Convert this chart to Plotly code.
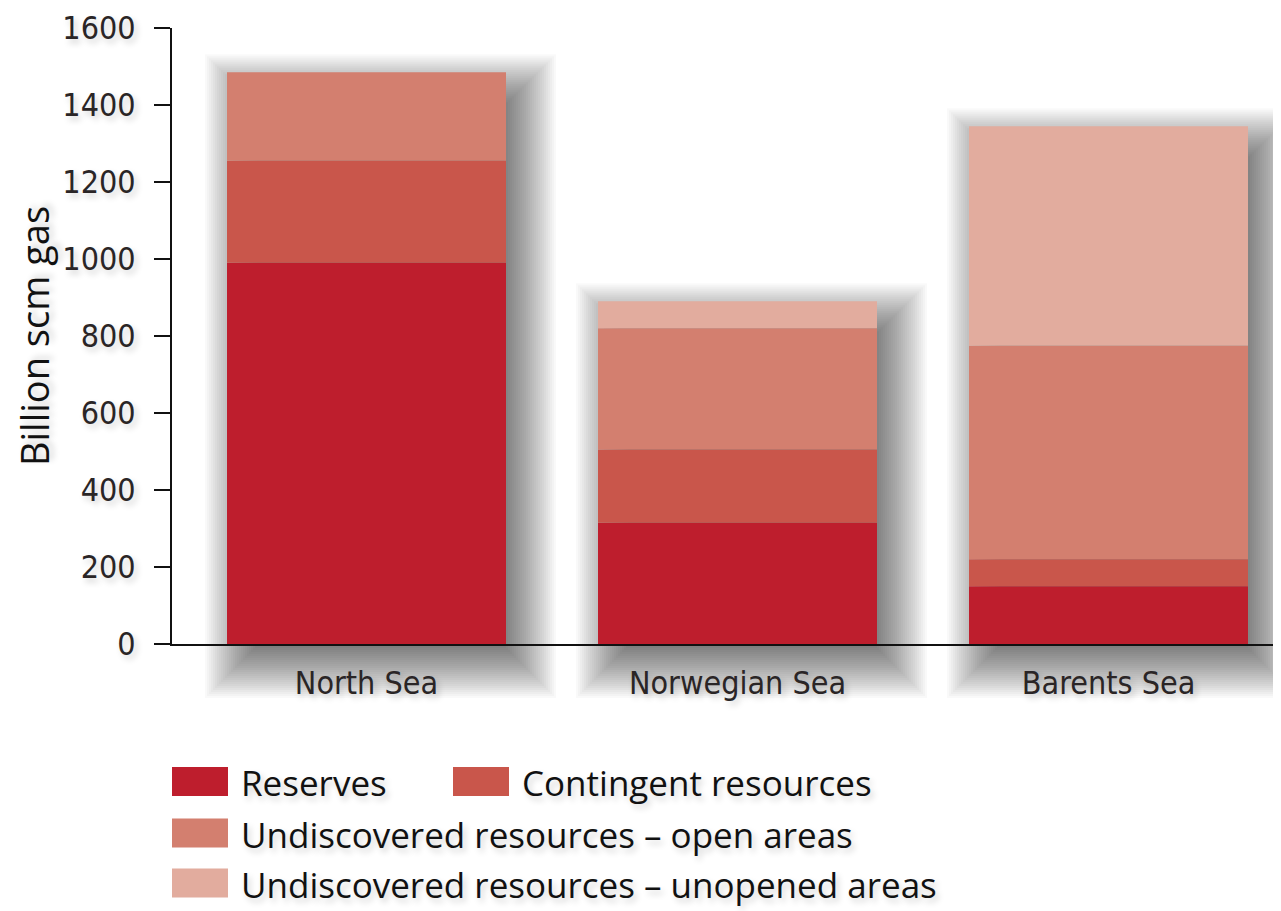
import plotly.graph_objects as go

# Resource estimates by sea area (billion scm gas)
areas = ["North Sea", "Norwegian Sea", "Barents Sea"]
series_names = [
    "Reserves",
    "Contingent resources",
    "Undiscovered resources – open areas",
    "Undiscovered resources – unopened areas",
]
reserves = [990, 315, 150]
contingent = [265, 190, 70]
undiscovered_open = [230, 315, 555]
undiscovered_unopened = [0, 70, 570]

y_ticks = [0, 200, 400, 600, 800, 1000, 1200, 1400, 1600]

colors = ["#be1e2d", "#c9564b", "#d37f6f", "#e2ac9e"]
series = [reserves, contingent, undiscovered_open, undiscovered_unopened]
totals = [sum(v) for v in zip(*series)]

# the page body adds an 8px margin at the top left, so the figure is shifted by that
PAD = 8
W, H = 1281 - PAD, 911 - PAD
soft = "3px 4px 6px rgba(0,0,0,0.18)"
tick_font = dict(family="DejaVu Sans Condensed, sans-serif",
                 size=32, color="#2a2526", shadow=soft)
text_font = dict(family="Open Sans, Noto Sans, sans-serif", size=35,
                 color="#111111", shadow=soft)


def px(p):
    return (p - PAD) / W


def py(p):
    return 1 - (p - PAD) / H


# window-pixel geometry of the plot area
left, right, top, bottom = 172, PAD + W, 28, 644
cat_px = 371            # distance between category centres
first_px = 366.5        # centre of first category
bar_px = 279
y_scale = (bottom - top) / 1600.0
x_range = [(left - first_px) / cat_px, (right - first_px) / cat_px]

fig = go.Figure()

# soft drop shadow: stacked translucent boxes on a hidden subplot behind the bars
shadow_dx, shadow_dy = 14, 18
shadow_bottom = 790
for grow in range(-16, 38, 2):
    ey = grow / y_scale
    fig.add_trace(go.Bar(
        x=areas, y=[t + 2 * ey for t in totals], base=-ey,
        width=(bar_px + 2 * grow) / cat_px,
        marker=dict(color="rgba(0,0,0,0.022)", line_width=0),
        xaxis="x", yaxis="y", showlegend=False, hoverinfo="skip",
    ))

# stacked segments (explicit bases so the shadow layers are not stacked)
running = [0] * len(areas)
for name, vals, col in zip(series_names, series, colors):
    fig.add_trace(go.Bar(
        x=areas, y=vals, base=list(running), name=name, width=bar_px / cat_px,
        marker=dict(color=col, line_width=0),
        xaxis="x2", yaxis="y2", showlegend=False,
    ))
    running = [r + v for r, v in zip(running, vals)]

shadow_top_val = 1600 + shadow_dy / y_scale
shadow_span = (shadow_bottom - top) / y_scale

fig.update_layout(
    width=W, height=H,
    margin=dict(l=0, r=0, t=0, b=0),
    paper_bgcolor="white",
    plot_bgcolor="rgba(0,0,0,0)",
    barmode="overlay",
    xaxis=dict(domain=[px(left), 1],
               range=[x_range[0] - shadow_dx / cat_px, x_range[1] - shadow_dx / cat_px],
               visible=False, fixedrange=True, automargin=False),
    yaxis=dict(domain=[py(shadow_bottom), py(top)],
               range=[shadow_top_val - shadow_span, shadow_top_val],
               visible=False, fixedrange=True, automargin=False),
    xaxis2=dict(domain=[px(left), 1], range=x_range, anchor="y2", automargin=False,
                showline=True, linecolor="#111111", linewidth=2,
                ticks="", showgrid=False, tickfont=tick_font,
                ticklabelstandoff=10, ticklabeloverflow="allow"),
    yaxis2=dict(domain=[py(bottom), py(top)], range=[0, 1600], anchor="x2",
                automargin=False, ticklabeloverflow="allow",
                tickvals=y_ticks, showline=True, linecolor="#111111", linewidth=2,
                ticks="outside", ticklen=16, tickwidth=2, tickcolor="#111111",
                showgrid=False, zeroline=False, tickfont=tick_font,
                ticklabelstandoff=12,
                title=dict(text="Billion scm gas", standoff=14,
                           font=dict(family="Open Sans, Noto Sans, sans-serif",
                                     size=38, color="#111111", shadow=soft))),
)

# legend laid out as in the original: two items on the first row, one per row after
legend_pos = [(172, 781.5), (453, 781.5), (172, 833), (172, 883)]
sw_w, sw_h = 56, 29
for name, col, (lx, ly) in zip(series_names, colors, legend_pos):
    fig.add_shape(type="rect", xref="paper", yref="paper",
                  x0=px(lx), x1=px(lx + sw_w), y0=py(ly + sw_h / 2), y1=py(ly - sw_h / 2),
                  fillcolor=col, line_width=0)
    fig.add_annotation(x=px(lx + sw_w + 12), y=py(ly + 1), xref="paper", yref="paper",
                       text=name, showarrow=False, xanchor="left", yanchor="middle",
                       borderpad=0, font=text_font)

fig.write_html("out.html")
